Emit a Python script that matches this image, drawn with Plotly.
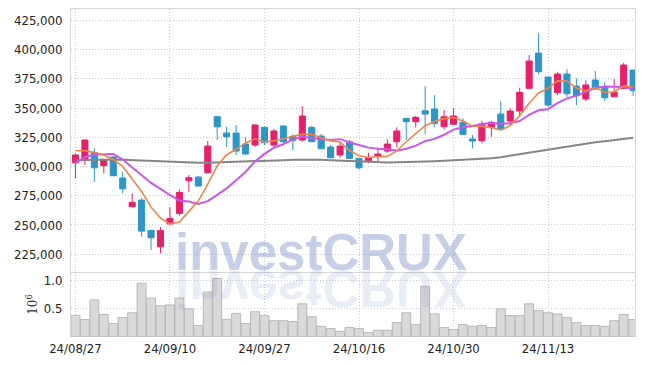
import plotly.graph_objects as go

dates = ["2024-08-27", "2024-08-28", "2024-08-29", "2024-08-30",
         "2024-09-02", "2024-09-03", "2024-09-04", "2024-09-05", "2024-09-06", "2024-09-09",
         "2024-09-10", "2024-09-11", "2024-09-12", "2024-09-13", "2024-09-19", "2024-09-20",
         "2024-09-23", "2024-09-24", "2024-09-25", "2024-09-26", "2024-09-27", "2024-09-30",
         "2024-10-02", "2024-10-04", "2024-10-07", "2024-10-08", "2024-10-10", "2024-10-11",
         "2024-10-14", "2024-10-15", "2024-10-16", "2024-10-17", "2024-10-18", "2024-10-21",
         "2024-10-22", "2024-10-23", "2024-10-24", "2024-10-25", "2024-10-28", "2024-10-29",
         "2024-10-30", "2024-10-31", "2024-11-01", "2024-11-04", "2024-11-05", "2024-11-06",
         "2024-11-07", "2024-11-08", "2024-11-11", "2024-11-12", "2024-11-13", "2024-11-14",
         "2024-11-15", "2024-11-18", "2024-11-19", "2024-11-20", "2024-11-21", "2024-11-22",
         "2024-11-25", "2024-11-26"]

open_ = [303250, 306000, 312150, 300700, 308150, 290150, 265600, 271300, 245400, 231350,
         251000, 259900, 287850, 291000, 294700, 342650, 328700, 328700, 319250, 318400,
         333550, 318400, 334650, 325850, 322700, 333550, 326100, 316700, 309850, 321250,
         307000, 304950, 309000, 313250, 321250, 341250, 338350, 347750, 349250, 334050,
         336150, 337850, 323550, 322100, 333550, 344950, 338950, 347500, 366950, 397150,
         376600, 363200, 379200, 368900, 357800, 374050, 367800, 359750, 366950, 382600]
high = [311100, 323000, 315600, 306500, 309000, 295550, 277050, 273300, 245700, 248200,
        265050, 280450, 292700, 292000, 321850, 343200, 334050, 335550, 325500, 336000,
        334200, 332100, 335200, 327550, 351800, 334650, 327800, 318400, 321250, 322700,
        307500, 311800, 316100, 323300, 333550, 341600, 343250, 368900, 361200, 348350,
        349850, 341250, 326950, 339200, 339200, 356100, 349850, 367450, 395450, 414050,
        377000, 381150, 383450, 375500, 374050, 381750, 372100, 374900, 388850, 382600]
low = [289900, 301300, 287000, 294150, 292000, 277050, 265300, 239900, 228500, 225700,
       250500, 257850, 278400, 283000, 294200, 322700, 316950, 309850, 310300, 316950,
       318400, 316950, 317800, 314100, 321250, 320900, 315000, 307200, 307550, 306700,
       297450, 302750, 303850, 311800, 316450, 322700, 333550, 327800, 333550, 331850,
       335600, 327000, 315600, 319850, 325500, 331500, 335550, 342650, 366000, 378950,
       351200, 361200, 359750, 352650, 356100, 366000, 356100, 359500, 366500, 360600]
close = [309850, 322700, 298950, 305800, 292100, 281000, 269350, 244750, 239050, 245350,
         255650, 277900, 290400, 283300, 317550, 334050, 325500, 313250, 310700, 335550,
         320350, 330400, 321250, 322450, 343250, 321250, 315250, 307550, 317550, 307000,
         298950, 307550, 310700, 319250, 330400, 338350, 342100, 344950, 336950, 342650,
         343250, 327550, 321850, 336400, 337850, 332100, 347500, 363550, 390300, 381150,
         352650, 379200, 362350, 360600, 369800, 366350, 358900, 363550, 386900, 364900]

ma5 = [313500, 313800, 312000, 309800, 305900, 300100, 289400, 278600, 265250, 255900,
       250800, 252550, 261650, 270500, 284950, 300650, 310150, 314750, 320200, 323800,
       321100, 322050, 323650, 326000, 327550, 327700, 324650, 321950, 320950, 313700,
       309250, 307700, 308350, 308700, 313350, 321250, 328150, 335000, 338550, 341000,
       342000, 339050, 334450, 334350, 333350, 331150, 335150, 343450, 354250, 362950,
       367050, 373350, 373150, 367200, 364900, 367650, 363600, 363850, 369100, 368100]
ma10 = [303000, 308000, 310200, 310800, 310800, 306000, 299500, 292300, 286000, 280900,
        275450, 271000, 270150, 267900, 270450, 275750, 281350, 288200, 295350, 304400,
        310850, 316100, 319200, 323100, 325650, 324400, 323350, 322800, 323450, 320600,
        318500, 316200, 315150, 314800, 313550, 315250, 317950, 321700, 323650, 327200,
        331600, 333600, 334750, 336450, 337200, 336550, 337100, 338950, 344300, 348150,
        349100, 354250, 358300, 360700, 363900, 367350, 368500, 368500, 368150, 366500]
ma60 = [305500, 305700, 306000, 306000, 306000, 305800, 305500, 305000, 304500, 304000,
        303700, 303500, 303400, 303300, 303300, 303500, 303700, 304000, 304300, 304600,
        304900, 305200, 305500, 305800, 306000, 306000, 305800, 305500, 305100, 304700,
        304200, 303800, 303500, 303500, 303600, 304000, 304200, 304400, 304600, 304900,
        305300, 305600, 305900, 306400, 307100, 308000, 309300, 310500, 312000, 313500,
        314800, 316000, 317300, 318600, 319800, 320800, 321700, 322600, 323600, 324700]

volume_m = [0.385, 0.31, 0.66, 0.40, 0.24, 0.345, 0.43, 0.955, 0.69, 0.555,
            0.57, 0.69, 0.50, 0.205, 0.80, 1.04, 0.315, 0.42, 0.24, 0.45,
            0.38, 0.29, 0.29, 0.275, 0.59, 0.36, 0.19, 0.15, 0.10, 0.17,
            0.15, 0.08, 0.12, 0.12, 0.255, 0.43, 0.22, 0.90, 0.41, 0.17,
            0.135, 0.22, 0.19, 0.205, 0.17, 0.50, 0.38, 0.38, 0.59, 0.47,
            0.43, 0.41, 0.345, 0.255, 0.205, 0.205, 0.19, 0.29, 0.40, 0.31]

tick_dates = ["2024-08-27", "2024-09-10", "2024-09-27", "2024-10-16", "2024-10-30", "2024-11-13"]
tick_text = ["24/08/27", "24/09/10", "24/09/27", "24/10/16", "24/10/30", "24/11/13"]

UP = "#e6206b"
DOWN = "#2e95c8"
GRID = "#c6c9d8"
GDASH = "1px,2px"
LINE = "#d6d6d6"
TICKFONT = dict(family="Liberation Sans Narrow, DejaVu Sans Condensed, Roboto",
                size=13, color="#222222")

fig = go.Figure()
fig.add_trace(go.Candlestick(
    x=dates, open=open_, high=high, low=low, close=close,
    increasing=dict(line=dict(color=UP, width=1), fillcolor=UP),
    decreasing=dict(line=dict(color=DOWN, width=1), fillcolor=DOWN),
    whiskerwidth=0, xaxis="x", yaxis="y", showlegend=False, name="price"))
fig.add_trace(go.Scatter(x=dates, y=ma60, mode="lines", line=dict(color="#858585", width=2),
                         xaxis="x", yaxis="y", showlegend=False, name="MA60"))
fig.add_trace(go.Scatter(x=dates, y=ma10, mode="lines", line=dict(color="#cc55ea", width=2),
                         xaxis="x", yaxis="y", showlegend=False, name="MA10"))
fig.add_trace(go.Scatter(x=dates, y=ma5, mode="lines", line=dict(color="#f08548", width=1.6),
                         xaxis="x", yaxis="y", showlegend=False, name="MA5"))
fig.add_trace(go.Bar(x=dates, y=volume_m, marker=dict(color="#d9d9d9", line=dict(color="#b9b9b9", width=1)),
                     xaxis="x2", yaxis="y2", showlegend=False, name="volume"))

xr = [-0.47, 59.2]
split = 0.198

fig.update_layout(
    width=645, height=366,
    margin=dict(l=71, r=10, t=9, b=29, autoexpand=False),
    paper_bgcolor="white", plot_bgcolor="white",
    hovermode=False,
    boxgap=0.36, boxgroupgap=0, bargap=0.05,
    xaxis=dict(type="category", domain=[0, 1], anchor="y", range=xr, automargin=False,
               rangeslider=dict(visible=False), showticklabels=False,
               tickvals=tick_dates, showgrid=True, gridcolor=GRID, griddash=GDASH,
               showline=True, linecolor=LINE, linewidth=1, mirror=True, ticks="",
               categoryorder="array", categoryarray=dates),
    xaxis2=dict(type="category", domain=[0, 1], anchor="y2", range=xr, automargin=False,
                tickvals=tick_dates, ticktext=tick_text, tickfont=TICKFONT,
                showgrid=True, gridcolor=GRID, griddash=GDASH, ticks="",
                showline=False, categoryorder="array", categoryarray=dates,
                ticklabelstandoff=2),
    yaxis=dict(domain=[split, 1], anchor="x", range=[209700, 434850], automargin=False,
               dtick=25000, tick0=0, tickformat=",d", tickfont=TICKFONT,
               showgrid=True, gridcolor=GRID, griddash=GDASH, zeroline=False,
               showline=True, linecolor=LINE, linewidth=1, mirror=True, ticks="",
               ticklabelstandoff=5),
    yaxis2=dict(domain=[0, split], anchor="x2", range=[0, 1.154], automargin=False,
                tickvals=[0.5, 1.0], ticktext=["0.5", "1.0"], tickfont=TICKFONT,
                showgrid=True, gridcolor=GRID, griddash=GDASH, zeroline=False,
                showline=True, linecolor=LINE, linewidth=1, mirror=True, ticks="",
                ticklabelstandoff=5),
    annotations=[
        dict(text="investCRUX", xref="paper", yref="paper", x=0.444, y=0.148,
             xanchor="center", yanchor="middle", showarrow=False,
             font=dict(family="Liberation Sans, Arial", size=51, color="rgba(120,140,195,0.18)", weight="bold")),
        dict(text="investCRUX", xref="paper", yref="paper", x=0.444, y=0.259,
             xanchor="center", yanchor="middle", showarrow=False,
             font=dict(family="Liberation Sans, Arial", size=51, color="rgba(115,135,195,0.40)", weight="bold")),
        dict(text="10<sup>6</sup>", xref="paper", yref="paper", x=-0.068, y=0.1,
             xanchor="center", yanchor="middle", showarrow=False, textangle=-90,
             font=dict(family="DejaVu Serif, Liberation Serif", size=12, color="#333333")),
    ],
)

post = """
document.body.style.margin = '0';
document.body.style.padding = '0';
var gd = document.getElementById('{plot_id}');
function flipRefl(){
  var g = gd.querySelector('.annotation[data-index="0"]');
  if(!g){ var all = gd.querySelectorAll('.annotation'); g = all[0]; }
  if(!g) return;
  var t = g.querySelector('text');
  if(!t) return;
  var b = t.getBBox();
  var cy = b.y + b.height/2;
  t.setAttribute('transform', 'translate(0,' + (2*cy) + ') scale(1,-1)');
}
flipRefl();
"""

fig.write_html("out.html", post_script=post, config={"displayModeBar": False, "staticPlot": True})
